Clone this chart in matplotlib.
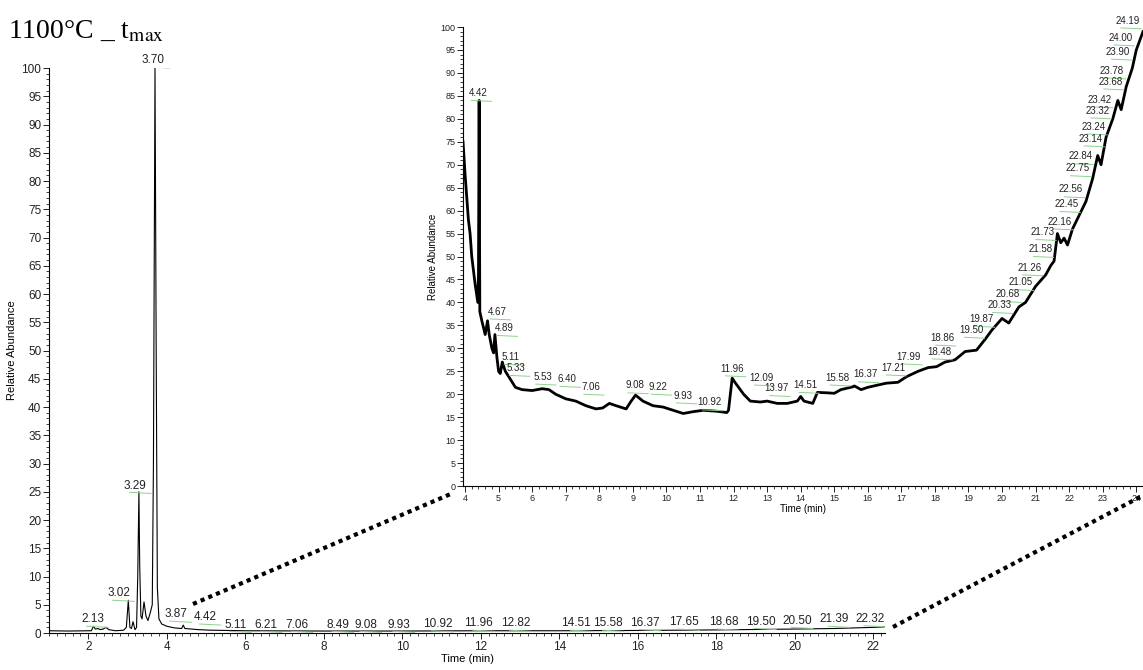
import matplotlib
matplotlib.use('Agg')
import matplotlib.pyplot as plt
from matplotlib.lines import Line2D
from matplotlib.ticker import MultipleLocator

plt.rcParams['font.family'] = ['Liberation Sans', 'DejaVu Sans']
plt.rcParams['mathtext.fontset'] = 'stix'

######################################################
# Full chromatogram (time in min, relative abundance)
main_time = [1.0, 1.5, 2.0, 2.08, 2.13, 2.18, 2.25, 2.3, 2.38, 2.45, 2.52, 2.7, 2.9,
             2.97, 3.02, 3.06, 3.1, 3.14, 3.19, 3.23, 3.26, 3.29, 3.31, 3.34, 3.37,
             3.42, 3.47, 3.52, 3.58, 3.63, 3.66, 3.70, 3.73, 3.76, 3.8, 3.87, 4.0,
             4.2, 4.38, 4.42, 4.46, 4.8, 5.11, 6.0, 8.0, 10.0, 12.0, 14.0, 16.0,
             18.0, 20.0, 21.0, 22.0, 22.3]
main_abund = [0.4, 0.35, 0.4, 0.4, 1.2, 0.7, 0.8, 0.6, 0.7, 1.0, 0.6, 0.4, 0.5,
              1.0, 5.8, 1.0, 0.8, 2.0, 0.6, 1.0, 10, 25, 12, 3.0, 2.5,
              5.5, 3.0, 2.2, 3.6, 5.0, 30, 100, 50, 8, 2.5, 1.6, 1.2,
              0.9, 0.8, 1.4, 0.8, 0.6, 0.5, 0.4, 0.35, 0.35, 0.4, 0.4, 0.45,
              0.55, 0.7, 0.8, 1.0, 1.1]

main_labels = ['2.13', '3.02', '3.29', '3.70', '3.87', '4.42', '5.11', '6.21', '7.06',
               '8.49', '9.08', '9.93', '10.92', '11.96', '12.82', '14.51', '15.58',
               '16.37', '17.65', '18.68', '19.50', '20.50', '21.39', '22.32']
main_label_x = [2.11, 2.77, 3.20, 3.66, 4.23, 4.98, 5.75, 6.53, 7.32, 8.36, 9.07, 9.91,
                10.9, 11.95, 12.88, 14.43, 15.25, 16.19, 17.17, 18.18, 19.13, 20.06,
                21.0, 21.91]
main_label_y = [2.4, 7.0, 26.1, 101.4, 3.3, 2.8, 1.5, 1.5, 1.5, 1.5, 1.5, 1.5, 1.6,
                1.7, 1.7, 1.7, 1.7, 1.8, 1.9, 1.9, 2.0, 2.2, 2.4, 2.5]

######################################################
# Zoomed chromatogram 4-24 min (renormalised)
zoom_time = [3.94, 4.0, 4.05, 4.1, 4.15, 4.2, 4.3, 4.38, 4.4, 4.42, 4.44, 4.5, 4.6,
             4.67, 4.72, 4.8, 4.85, 4.89, 4.95, 5.0, 5.05, 5.11, 5.2, 5.33, 5.5, 5.7,
             6.0, 6.3, 6.5, 6.7, 7.0, 7.3, 7.6, 7.9, 8.1, 8.3, 8.5, 8.8, 8.95, 9.08,
             9.3, 9.6, 9.9, 10.2, 10.5, 10.8, 11.1, 11.5, 11.8, 11.85, 11.96, 12.05,
             12.3, 12.5, 12.8, 13.0, 13.3, 13.6, 13.9, 14.0, 14.1, 14.36, 14.5, 14.8,
             15.0, 15.2, 15.55, 15.6, 15.8, 16.0, 16.3, 16.55, 16.9, 17.15, 17.5,
             17.8, 18.05, 18.3, 18.6, 18.9, 19.24, 19.5, 19.7, 20.0, 20.2, 20.5, 20.7,
             21.0, 21.3, 21.45, 21.55, 21.65, 21.75, 21.85, 21.95, 22.1, 22.3, 22.5,
             22.7, 22.85, 22.95, 23.1, 23.3, 23.45, 23.55, 23.7, 23.88, 24.0, 24.2]
zoom_abund = [75, 68, 63, 58, 55, 50, 44, 40, 46, 84, 38, 36, 33,
              36, 33, 30, 29, 33, 28, 25, 24.5, 27, 25, 23.5, 21.5, 21,
              20.8, 21.2, 21, 20, 19, 18.5, 17.5, 16.8, 17, 18, 17.5, 16.8, 18.5, 19.8,
              18.5, 17.5, 17.2, 16.5, 15.8, 16.2, 16.5, 16.3, 16, 16.5, 23.5, 22.5,
              20, 18.5, 18.3, 18.5, 18, 18, 18.5, 19.5, 18.5, 18, 20.4, 20.3,
              20.2, 21, 21.6, 21.8, 21, 21.5, 22, 22.4, 22.6, 23.8, 25,
              25.8, 26, 27, 27.5, 29.3, 29.6, 32, 34, 36.5, 35.5, 39, 40,
              43.5, 46, 48, 49, 55, 53, 54, 52.5, 56, 59, 62,
              67, 72, 70, 76, 80, 84, 82, 87, 91, 95, 99]

zoom_labels = ['4.42', '4.67', '4.89', '5.11', '5.33', '5.53', '6.40', '7.06', '9.08',
               '9.22', '9.93', '10.92', '11.96', '12.09', '13.97', '14.51', '15.58',
               '16.37', '17.21', '17.99', '18.48', '18.86', '19.50', '19.87', '20.33',
               '20.68', '21.05', '21.26', '21.58', '21.73', '22.16', '22.45', '22.56',
               '22.75', '22.84', '23.14', '23.24', '23.32', '23.42', '23.68', '23.78',
               '23.90', '24.00', '24.19']
zoom_label_x = [4.39, 4.95, 5.16, 5.37, 5.52, 6.31, 7.03, 7.74, 9.06, 9.75, 10.5, 11.27,
                11.96, 12.83, 13.28, 14.15, 15.08, 15.93, 16.75, 17.22, 18.12, 18.22,
                19.08, 19.38, 19.92, 20.17, 20.54, 20.82, 21.14, 21.21, 21.73, 21.93,
                22.06, 22.24, 22.33, 22.65, 22.73, 22.85, 22.9, 23.23, 23.28, 23.46,
                23.54, 23.74]
zoom_label_y = [85.6, 38.0, 34.4, 28.1, 25.7, 23.8, 23.3, 21.6, 21.9, 21.6, 19.7, 18.2,
                25.6, 23.6, 21.3, 22.0, 23.6, 24.3, 25.8, 28.2, 29.3, 32.3, 34.0, 36.4,
                39.4, 41.8, 44.4, 47.6, 51.6, 55.3, 57.6, 61.4, 64.6, 69.2, 71.8, 75.7,
                78.3, 81.8, 84.2, 88.1, 90.5, 94.6, 97.7, 101.4]

green = '#8fd08f'


def style_axis(ax, fs):
    for side in ['top', 'right']:
        ax.spines[side].set_visible(False)
    ax.yaxis.set_major_locator(MultipleLocator(5))
    ax.yaxis.set_minor_locator(MultipleLocator(1))
    ax.tick_params(which='major', direction='out', length=4, width=0.7,
                   labelsize=fs, pad=1.5, colors='#222222')
    ax.tick_params(which='minor', direction='out', length=2.5, width=0.6, colors='#222222')


fig = plt.figure(figsize=(11.43, 6.70), dpi=100)

# main chromatogram
ax = fig.add_axes([0.0429, 0.0552, 0.7314, 0.8433])
ax.plot(main_time, main_abund, color='black', lw=0.8)
ax.set_xlim(1.0, 22.3)
ax.set_ylim(0, 100)
ax.xaxis.set_major_locator(MultipleLocator(2))
ax.xaxis.set_minor_locator(MultipleLocator(0.2))
style_axis(ax, 8.5)
ax.set_xlabel('Time (min)', fontsize=8, labelpad=1)
ax.set_ylabel('Relative Abundance', fontsize=8, labelpad=3)
for lab, x, y in zip(main_labels, main_label_x, main_label_y):
    ax.text(x, y, lab, fontsize=8.5, ha='center', va='center', color='#222222')
    ax.plot([x - 0.15, x + 0.4], [y - 1.2, y - 1.4], color=green, lw=0.7)

# zoomed chromatogram
axz = fig.add_axes([0.4051, 0.2746, 0.5949, 0.6851])
axz.plot(zoom_time, zoom_abund, color='black', lw=2.0)
axz.set_xlim(3.94, 24.2)
axz.set_ylim(0, 100)
axz.xaxis.set_major_locator(MultipleLocator(1))
axz.xaxis.set_minor_locator(MultipleLocator(0.2))
style_axis(axz, 6.5)
axz.set_xlabel('Time (min)', fontsize=7, labelpad=1)
axz.set_ylabel('Relative Abundance', fontsize=7, labelpad=2)
for lab, x, y in zip(zoom_labels, zoom_label_x, zoom_label_y):
    axz.text(x, y, lab, fontsize=7, ha='center', va='center', color='#222222')
    axz.plot([x - 0.2, x + 0.4], [y - 1.6, y - 1.8], color=green, lw=0.7,
             clip_on=False)

# dotted connectors (figure coordinates)
for x0, y0, x1, y1 in [(193, 604, 453, 493), (893, 627, 1140, 497)]:
    fig.add_artist(Line2D([x0 / 1143, x1 / 1143], [1 - y0 / 670, 1 - y1 / 670],
                          color='black', lw=3, linestyle=(0, (1, 1)),
                          dash_capstyle='butt'))

fig.text(0.007, 0.953, '1100°C _ t$_{\\mathrm{max}}$', fontsize=20,
         family='Liberation Serif', va='center', ha='left')

fig.savefig('out.png', dpi=100)
